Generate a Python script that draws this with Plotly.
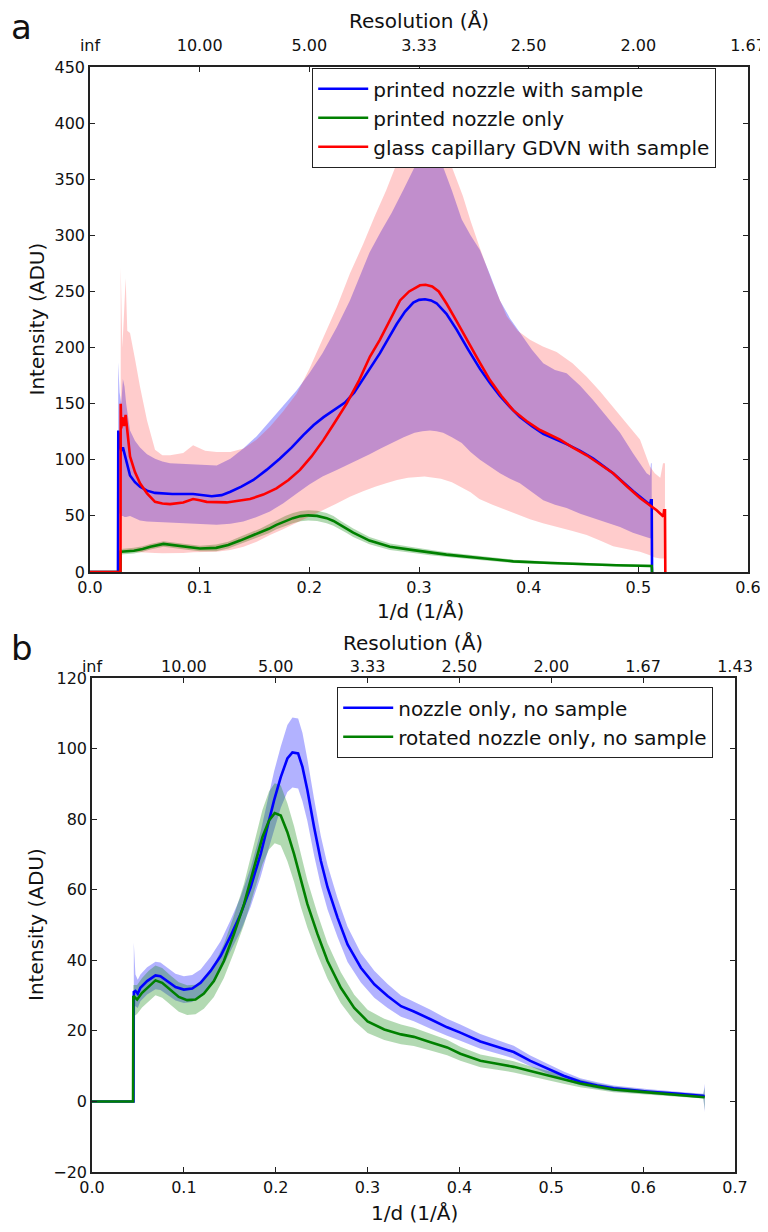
import plotly.graph_objects as go

# The page body has an 8 px margin, so the figure is 8 px smaller than the window
# and reference pixel positions are shifted by that offset.
OFF = 8
W, H = 768 - OFF, 1232 - OFF
FONT = "DejaVu Sans"

# ---------------- Panel a data ----------------
A_BLUE_X = [0, 0.0255, 0.0258, 0.0285, 0.030, 0.033, 0.0365, 0.041, 0.0456, 0.052,
            0.0593, 0.075, 0.094, 0.111, 0.12, 0.128, 0.138, 0.149, 0.161, 0.173,
            0.184, 0.1945, 0.204, 0.213, 0.223, 0.2325, 0.241, 0.249, 0.2565, 0.2644,
            0.272, 0.2797, 0.2873, 0.2948, 0.3, 0.3055, 0.311, 0.316, 0.325, 0.3343,
            0.345, 0.3556, 0.365, 0.3738, 0.383, 0.392, 0.403, 0.4133, 0.4346, 0.447,
            0.4589, 0.477, 0.4954, 0.5106, 0.5115, 0.5122, 0.5125]
A_BLUE_Y = [0, 0, 126, 108, 111, 100, 86, 80, 76, 72.5,
            70.5, 69.5, 69.5, 67.5, 68.5, 71.5, 76, 82, 91, 101,
            111, 122, 131, 138, 145, 151, 160, 172, 183, 195,
            208, 221, 232, 240, 242.5, 243, 242, 239.5, 230, 216,
            198, 181, 168, 157, 147, 138, 130, 123, 114, 108,
            101, 88, 72, 60, 64, 64, 0]

A_GREEN_X = [0, 0.0278, 0.028, 0.04, 0.048, 0.055, 0.067, 0.08, 0.09, 0.1003,
             0.115, 0.126, 0.1368, 0.146, 0.155, 0.163, 0.17, 0.178, 0.185, 0.192,
             0.199, 0.207, 0.2158, 0.222, 0.228, 0.234, 0.24, 0.2548, 0.2735, 0.2948,
             0.31, 0.325, 0.36, 0.386, 0.42, 0.4468, 0.48, 0.5122, 0.5125]
A_GREEN_Y = [0, 0, 18, 19, 20.5, 22.5, 25, 23.5, 22, 21,
             21.5, 24, 28, 31.5, 35, 38.5, 42, 45.5, 48, 49.8,
             50.5, 50, 48, 45.5, 42, 38.5, 35, 28, 22.5, 19.5,
             17.3, 15.5, 12, 9.5, 8, 7, 6, 5.3, 0]

A_RED_X = [0, 0.0278, 0.028, 0.0285, 0.0295, 0.031, 0.0325, 0.034, 0.0365, 0.041,
           0.0456, 0.052, 0.0593, 0.066, 0.073, 0.085, 0.094, 0.1, 0.1064, 0.1246,
           0.1459, 0.158, 0.170, 0.181, 0.1915, 0.202, 0.2128, 0.223, 0.234, 0.245,
           0.2553, 0.2644, 0.2735, 0.2827, 0.291, 0.3009, 0.306, 0.312, 0.318, 0.3252,
           0.334, 0.3435, 0.354, 0.3647, 0.375, 0.386, 0.398, 0.4103, 0.4286, 0.44,
           0.4529, 0.465, 0.477, 0.49, 0.5015, 0.5167, 0.5228, 0.5235, 0.5243, 0.5246]
A_RED_Y = [0, 0, 150, 128, 138, 130, 140, 128, 103, 89,
           79, 70, 62.5, 61, 60.5, 62, 65, 64, 62.5, 62,
           65, 69, 74.5, 82, 91, 103, 117.5, 133, 150, 170,
           192, 207, 225, 242, 250, 255.5, 256, 254.5, 250, 239,
           224, 207, 189, 171, 157, 144, 134.5, 126.5, 118, 111,
           104, 96, 88, 76, 66, 55, 49.5, 55, 55, 0]

# spread band of "printed nozzle with sample" (blue)
A_BLUE_BAND_X = [0.0257, 0.027, 0.0285, 0.030, 0.0315, 0.033, 0.0365, 0.041, 0.0456, 0.052,
                 0.0593, 0.066, 0.073, 0.083, 0.094, 0.105, 0.1155, 0.128, 0.1398, 0.152,
                 0.1641, 0.176, 0.1885, 0.2, 0.212, 0.225, 0.237, 0.246, 0.255, 0.265,
                 0.275, 0.286, 0.296, 0.303, 0.31, 0.316, 0.322, 0.33, 0.339, 0.347,
                 0.3556, 0.3647, 0.3738, 0.383, 0.392, 0.403, 0.4133, 0.424, 0.4346, 0.447,
                 0.4589, 0.471, 0.4833, 0.495, 0.5076, 0.5106, 0.5115, 0.5122]
A_BLUE_BAND_HI = [187, 160, 150, 172, 165, 150, 126, 117, 111, 105,
                  101, 98.5, 97, 96.5, 96.5, 96, 95, 101, 110, 121,
                  135, 148, 162, 177, 195, 218, 242, 263, 285, 303,
                  320, 341, 361, 370, 375, 372, 361, 340, 314, 300,
                  287, 265, 242, 226, 213, 198, 186, 180, 177, 166,
                  153, 139, 124, 106, 88, 86, 97, 97]
A_BLUE_BAND_LO = [55, 52, 50, 50, 49, 49, 50, 48, 46, 45,
                  45, 44.5, 44, 43.5, 43, 42.5, 42, 43, 45, 49,
                  54, 61, 70, 78, 85, 91, 97, 101, 105, 110,
                  115, 120, 124, 125.5, 126, 125.5, 124, 120, 115, 107,
                  100, 94, 88, 83, 79, 71, 64, 60, 57, 52,
                  48, 44, 40, 35, 31, 30, 30, 30]

# spread band of "printed nozzle only" (green)
A_GREEN_BAND_X = [0.028, 0.04, 0.048, 0.055, 0.067, 0.08, 0.09, 0.1003, 0.115, 0.126,
                  0.1368, 0.146, 0.155, 0.163, 0.17, 0.178, 0.185, 0.192, 0.199, 0.207,
                  0.2158, 0.222, 0.228, 0.234, 0.24, 0.2548, 0.2735, 0.2948, 0.31, 0.325,
                  0.36, 0.386, 0.42, 0.4468, 0.48, 0.5122]
A_GREEN_BAND_HI = [20.5, 21.5, 23, 25, 27.5, 26, 24.5, 23.5, 24.5, 27,
                   31.5, 35, 38.5, 42.5, 46, 49.8, 52.5, 54.3, 55, 54.5,
                   52.5, 49.8, 46, 42.3, 38.8, 31.2, 25.3, 22, 19.6, 17.7,
                   13.8, 11, 9.3, 8.2, 7.1, 6.4]
A_GREEN_BAND_LO = [15.5, 16.5, 18, 20, 22.5, 21, 19.5, 18.5, 18.5, 21,
                   24.5, 28, 31.5, 34.5, 38, 41.2, 43.5, 45.3, 46, 45.5,
                   43.5, 41.2, 38, 34.7, 31.2, 24.8, 19.7, 17, 15, 13.3,
                   10.2, 8, 6.7, 5.8, 4.9, 4.2]

# spread band of "glass capillary GDVN with sample" (red)
A_RED_BAND_X = [0.028, 0.0295, 0.031, 0.0325, 0.034, 0.0365, 0.041, 0.0456, 0.052, 0.0593,
                0.066, 0.073, 0.085, 0.094, 0.105, 0.1155, 0.128, 0.14, 0.152, 0.1641,
                0.176, 0.1885, 0.2, 0.212, 0.225, 0.237, 0.249, 0.26, 0.27, 0.28,
                0.29, 0.305, 0.32, 0.33, 0.34, 0.347, 0.355, 0.367, 0.38, 0.39,
                0.4012, 0.413, 0.4255, 0.44, 0.4529, 0.465, 0.477, 0.489, 0.5015, 0.5106,
                0.515, 0.52, 0.5225, 0.5243]
A_RED_BAND_HI = [272, 200, 230, 262, 215, 213, 190, 165, 135, 109,
                 104, 104, 106, 113, 108, 107, 107, 110, 118, 129.5,
                 143, 159, 181, 207, 236, 266, 292, 318, 340, 365,
                 400, 430, 400, 361, 335, 313, 290, 258, 228, 215,
                 207, 201, 196, 186, 174, 161, 147, 133, 118, 94,
                 88, 84, 97, 97]
A_RED_BAND_LO = [23, 20, 19, 19, 18.5, 18, 17.8, 17.5, 17.2, 17,
                 16.8, 16.5, 17, 17.5, 18, 18, 19.5, 22.5, 27, 33,
                 38, 43.5, 49, 55, 61, 67, 72, 76, 79, 82,
                 84, 85, 83, 80, 75, 71, 65, 60, 55, 51,
                 47, 43.5, 40, 36.5, 33, 28, 23, 20.5, 18, 15,
                 13, 12, 12, 12]

A_NAMES = ["printed nozzle with sample", "printed nozzle only", "glass capillary GDVN with sample"]
A_TOP_TICKS = [0.0, 0.1, 0.2, 0.3, 0.4, 0.5, 0.6]
A_TOP_LABELS = ["inf", "10.00", "5.00", "3.33", "2.50", "2.00", "1.67"]

# ---------------- Panel b data ----------------
B_BLUE_X = [0, 0.0452, 0.0455, 0.0473, 0.0498, 0.0527, 0.06, 0.0691, 0.0745, 0.0818,
            0.0909, 0.1, 0.1091, 0.1182, 0.1291, 0.14, 0.1509, 0.1618, 0.1727, 0.1836,
            0.1909, 0.1982, 0.2055, 0.2127, 0.2182, 0.2244, 0.2291, 0.2345, 0.2418, 0.2491,
            0.2564, 0.2673, 0.2782, 0.2927, 0.3073, 0.3218, 0.3364, 0.3504, 0.3685, 0.3866,
            0.401, 0.4228, 0.441, 0.4591, 0.4772, 0.4953, 0.5134, 0.5315, 0.55, 0.5678,
            0.586, 0.604, 0.635, 0.6656, 0.667]
B_BLUE_Y = [0, 0, 31, 31.3, 30.5, 32.2, 34.1, 35.7, 35.5, 34.1,
            32.4, 31.7, 32, 33.6, 37, 41.2, 46.9, 53.1, 60.7, 70.1,
            77.7, 85.3, 91.9, 97.2, 98.9, 98.6, 94.8, 88.2, 77.7, 68.2,
            60.7, 52.1, 44.5, 37.9, 33.2, 29.9, 27, 25.5, 23.3, 21,
            19.5, 17, 15.5, 14, 11.5, 9.3, 7.3, 5.6, 4.5, 3.7,
            3.2, 2.8, 2.2, 1.6, 1.5]

B_BLUE_BAND_X = [0.0455, 0.0473, 0.0498, 0.0527, 0.06, 0.0691, 0.0745, 0.0818, 0.0909, 0.1,
                 0.1091, 0.1182, 0.1291, 0.14, 0.1509, 0.1618, 0.1727, 0.1836, 0.1909, 0.1982,
                 0.2055, 0.2127, 0.2182, 0.2244, 0.2291, 0.2345, 0.2418, 0.2491, 0.2564, 0.2673,
                 0.2782, 0.2927, 0.3073, 0.3218, 0.3364, 0.3504, 0.3685, 0.3866, 0.401, 0.4228,
                 0.441, 0.4591, 0.4772, 0.4953, 0.5134, 0.5315, 0.55, 0.5678, 0.586, 0.604,
                 0.635, 0.6656, 0.667]
B_BLUE_BAND_HI = [45, 36, 34.5, 36, 38, 39.6, 39.4, 38, 36.2, 35.5,
                  35.8, 37.4, 41, 45.4, 51.4, 58, 66.2, 76.5, 85, 93.5,
                  100.6, 106.7, 108.8, 108.5, 104.5, 97, 85.7, 75.2, 67, 57.6,
                  49.5, 42.1, 37, 33.3, 30, 28.3, 26, 23.4, 21.8, 19.1,
                  17.4, 15.8, 13, 10.7, 8.5, 6.6, 5.4, 4.5, 3.9, 3.5,
                  2.8, 2.2, 5]
B_BLUE_BAND_LO = [27, 27, 26.5, 28.4, 30.3, 31.8, 31.6, 30.2, 28.6, 27.9,
                  28.2, 29.8, 33, 37, 42.4, 48.2, 55.2, 63.7, 70.4, 77.1,
                  83.2, 87.7, 89, 88.7, 85.1, 79.4, 69.7, 61.2, 54.4, 46.6,
                  39.5, 33.7, 29.4, 26.5, 24, 22.7, 20.6, 18.6, 17.2, 14.9,
                  13.6, 12.2, 10, 7.9, 6.1, 4.6, 3.6, 2.9, 2.5, 2.1,
                  1.6, 1.0, -3]

B_GREEN_X = [0, 0.0447, 0.045, 0.0491, 0.0545, 0.0618, 0.0691, 0.0764, 0.0855, 0.0945,
             0.1036, 0.1127, 0.1218, 0.1327, 0.1436, 0.1545, 0.1655, 0.1764, 0.1855, 0.1927,
             0.1989, 0.2055, 0.2127, 0.22, 0.2273, 0.2345, 0.2455, 0.2564, 0.2709, 0.2855,
             0.3, 0.3182, 0.3364, 0.3504, 0.3685, 0.3866, 0.401, 0.4228, 0.441, 0.4591,
             0.4772, 0.4953, 0.5134, 0.5315, 0.55, 0.5678, 0.586, 0.604, 0.635, 0.6656,
             0.667]
B_GREEN_Y = [0, 0, 29.9, 28.9, 30.8, 32.7, 34.3, 33.6, 31.5, 29.6,
             28.7, 28.9, 30.6, 34.1, 39.8, 47.4, 55.9, 66.4, 74.9, 79.6,
             81.7, 81, 76.3, 70.1, 62.6, 55.9, 47.4, 39.8, 32.2, 26.5,
             22.7, 20.4, 19, 18.3, 16.8, 15.3, 13.5, 11.5, 10.7, 9.8,
             8.6, 7.4, 6.2, 5.1, 4.2, 3.4, 3, 2.6, 2, 1.4,
             1.2]

B_GREEN_BAND_X = [0.045, 0.0491, 0.0545, 0.0618, 0.0691, 0.0764, 0.0855, 0.0945, 0.1036, 0.1127,
                  0.1218, 0.1327, 0.1436, 0.1545, 0.1655, 0.1764, 0.1855, 0.1927, 0.1989, 0.2055,
                  0.2127, 0.22, 0.2273, 0.2345, 0.2455, 0.2564, 0.2709, 0.2855, 0.3, 0.3182,
                  0.3364, 0.3504, 0.3685, 0.3866, 0.401, 0.4228, 0.441, 0.4591, 0.4772, 0.4953,
                  0.5134, 0.5315, 0.55, 0.5678, 0.586, 0.604, 0.635, 0.6656, 0.667]
B_GREEN_BAND_HI = [33, 33, 35, 37, 38.5, 37.8, 35.7, 33.8, 32.9, 33.1,
                   34.9, 38.6, 44.6, 52.6, 61.7, 73.2, 82.6, 87.8, 90.2, 89.5,
                   84.5, 78, 70, 62.6, 53.2, 44.8, 36.6, 30.2, 26, 23.4,
                   21.8, 20.9, 19.2, 17.5, 15.5, 13.3, 12.4, 11.4, 10, 8.7,
                   7.4, 6.2, 5.1, 4.2, 3.7, 3.2, 2.6, 2, 4]
B_GREEN_BAND_LO = [24, 24.8, 26.6, 28.4, 30.1, 29.4, 27.3, 25.4, 24.5, 24.7,
                   26.3, 29.6, 35, 42.2, 50.1, 59.6, 67.2, 71.4, 73.2, 72.5,
                   68.1, 62.2, 55.2, 49.2, 41.6, 34.8, 27.8, 22.8, 19.4, 17.4,
                   16.2, 15.7, 14.4, 13.1, 11.5, 9.7, 9, 8.2, 7.2, 6.1,
                   5, 4, 3.3, 2.6, 2.3, 2, 1.4, 0.8, -2.5]

B_NAMES = ["nozzle only, no sample", "rotated nozzle only, no sample"]
B_TOP_TICKS = [0.0, 0.1, 0.2, 0.3, 0.4, 0.5, 0.6, 0.7]
B_TOP_LABELS = ["inf", "10.00", "5.00", "3.33", "2.50", "2.00", "1.67", "1.43"]

BLUE, GREEN, RED = "#0000ff", "#008000", "#ff0000"
BLUE_FILL = "rgba(0,0,255,0.3)"
GREEN_FILL = "rgba(0,128,0,0.3)"
RED_FILL = "rgba(255,0,0,0.2)"


def fx(p):
    return (p - OFF) / W


def fy(p):
    return 1 - (p - OFF) / H


def band(x, lo, hi, color, xa, ya):
    return go.Scatter(x=list(x) + list(x)[::-1], y=list(hi) + list(lo)[::-1],
                      fill="toself", fillcolor=color, mode="lines", line=dict(width=0),
                      hoverinfo="skip", showlegend=False, xaxis=xa, yaxis=ya)


def line(x, y, color, name, xa, ya, legend):
    return go.Scatter(x=x, y=y, mode="lines", line=dict(color=color, width=2.6),
                      name=name, xaxis=xa, yaxis=ya, legend=legend)


fig = go.Figure()
# panel a
fig.add_trace(band(A_BLUE_BAND_X, A_BLUE_BAND_LO, A_BLUE_BAND_HI, BLUE_FILL, "x", "y"))
fig.add_trace(band(A_GREEN_BAND_X, A_GREEN_BAND_LO, A_GREEN_BAND_HI, GREEN_FILL, "x", "y"))
fig.add_trace(band(A_RED_BAND_X, A_RED_BAND_LO, A_RED_BAND_HI, RED_FILL, "x", "y"))
fig.add_trace(line(A_BLUE_X, A_BLUE_Y, BLUE, A_NAMES[0], "x", "y", "legend"))
fig.add_trace(line(A_GREEN_X, A_GREEN_Y, GREEN, A_NAMES[1], "x", "y", "legend"))
fig.add_trace(line(A_RED_X, A_RED_Y, RED, A_NAMES[2], "x", "y", "legend"))
fig.add_trace(go.Scatter(x=A_TOP_TICKS, y=[None] * len(A_TOP_TICKS), xaxis="x3", yaxis="y",
                         showlegend=False, hoverinfo="skip", mode="lines"))
# panel b
fig.add_trace(band(B_BLUE_BAND_X, B_BLUE_BAND_LO, B_BLUE_BAND_HI, BLUE_FILL, "x2", "y2"))
fig.add_trace(band(B_GREEN_BAND_X, B_GREEN_BAND_LO, B_GREEN_BAND_HI, GREEN_FILL, "x2", "y2"))
fig.add_trace(line(B_BLUE_X, B_BLUE_Y, BLUE, B_NAMES[0], "x2", "y2", "legend2"))
fig.add_trace(line(B_GREEN_X, B_GREEN_Y, GREEN, B_NAMES[1], "x2", "y2", "legend2"))
fig.add_trace(go.Scatter(x=B_TOP_TICKS, y=[None] * len(B_TOP_TICKS), xaxis="x4", yaxis="y2",
                         showlegend=False, hoverinfo="skip", mode="lines"))

tickfont = dict(family=FONT, size=16, color="#111")
axis_common = dict(showgrid=False, zeroline=False, showline=True, linecolor="#222", linewidth=1.6,
                   ticks="inside", ticklen=5, tickwidth=1, tickcolor="#222", tickfont=tickfont,
                   automargin=False)
top_common = {**axis_common, "showline": False}

A_DOM_X = [fx(90), fx(748)]
A_DOM_Y = [fy(572), fy(67)]
B_DOM_X = [fx(92), fx(735)]
B_DOM_Y = [fy(1172), fy(678)]

fig.update_layout(
    width=W, height=H, autosize=False,
    margin=dict(l=0, r=0, t=0, b=0, pad=0, autoexpand=False),
    paper_bgcolor="white", plot_bgcolor="white",
    font=dict(family=FONT, size=16, color="#111"),
    xaxis=dict(domain=A_DOM_X, anchor="y", range=[0, 0.6], tickvals=A_TOP_TICKS,
               tickformat=".1f", mirror=True, **axis_common),
    yaxis=dict(domain=A_DOM_Y, anchor="x", range=[0, 450], dtick=50, mirror="ticks", **axis_common),
    xaxis3=dict(overlaying="x", side="top", anchor="y", range=[0, 0.6], tickvals=A_TOP_TICKS,
                ticktext=A_TOP_LABELS, ticklabelstandoff=12, **top_common),
    xaxis2=dict(domain=B_DOM_X, anchor="y2", range=[0, 0.7], tickvals=B_TOP_TICKS,
                tickformat=".1f", mirror=True, **axis_common),
    yaxis2=dict(domain=B_DOM_Y, anchor="x2", range=[-20, 120], dtick=20, mirror="ticks", **axis_common),
    xaxis4=dict(overlaying="x2", side="top", anchor="y2", range=[0, 0.7], tickvals=B_TOP_TICKS,
                ticktext=B_TOP_LABELS, ticklabelstandoff=2, **top_common),
    legend=dict(x=fx(312), y=fy(68), xanchor="left", yanchor="top", bgcolor="white",
                bordercolor="#222", borderwidth=1.2, font=dict(family=FONT, size=20, color="#111"),
                itemwidth=50, entrywidth=360, entrywidthmode="pixels"),
    legend2=dict(x=fx(337), y=fy(687), xanchor="left", yanchor="top", bgcolor="white",
                 bordercolor="#222", borderwidth=1.2, font=dict(family=FONT, size=20, color="#111"),
                 itemwidth=50, entrywidth=324, entrywidthmode="pixels"),
    showlegend=True,
)

ann = [
    dict(text="a", x=fx(22), y=fy(27), size=34),
    dict(text="b", x=fx(22), y=fy(648), size=34),
    dict(text="Resolution (Å)", x=fx(419), y=fy(21), size=20),
    dict(text="Resolution (Å)", x=fx(413), y=fy(643), size=20),
    dict(text="1/d (1/Å)", x=fx(420), y=fy(611), size=20),
    dict(text="1/d (1/Å)", x=fx(414), y=fy(1213), size=20),
]
for a in ann:
    fig.add_annotation(text=a["text"], x=a["x"], y=a["y"], xref="paper", yref="paper",
                       xanchor="center", yanchor="middle", showarrow=False,
                       font=dict(family=FONT, size=a["size"], color="#111"))
for yc in [(67 + 572) / 2, (678 + 1172) / 2]:
    fig.add_annotation(text="Intensity (ADU)", x=fx(36), y=fy(yc), xref="paper", yref="paper",
                       xanchor="center", yanchor="middle", showarrow=False, textangle=-90,
                       font=dict(family=FONT, size=20, color="#111"))

fig.write_html("out.html")
